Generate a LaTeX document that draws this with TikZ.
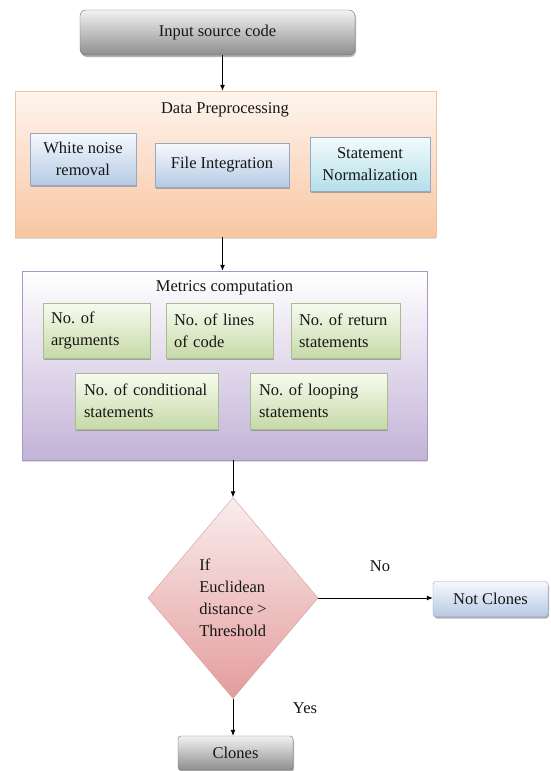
\documentclass[tikz,border=0pt]{standalone}
\usepackage{fontspec}
\setmainfont{Liberation Serif}
\frenchspacing
\usetikzlibrary{shapes.geometric,shadows,arrows.meta}
\definecolor{txt}{HTML}{161616}
\definecolor{grayT}{HTML}{F2F2F2}
\definecolor{grayB}{HTML}{8E8E8E}
\definecolor{grayL}{HTML}{6E6E6E}
\definecolor{orT}{HTML}{FEF5EE}
\definecolor{orB}{HTML}{F8C6A2}
\definecolor{orL}{HTML}{F2C2A0}
\definecolor{blT}{HTML}{F6F9FD}
\definecolor{blB}{HTML}{B6CAE4}
\definecolor{blL}{HTML}{95A9C6}
\definecolor{cyT}{HTML}{F2FBFD}
\definecolor{cyB}{HTML}{B4DFEA}
\definecolor{puT}{HTML}{FFFFFF}
\definecolor{puB}{HTML}{C3B3D8}
\definecolor{puL}{HTML}{A898C2}
\definecolor{grT}{HTML}{F7FBF0}
\definecolor{grB}{HTML}{C6DAA8}
\definecolor{grL}{HTML}{A9BC8C}
\definecolor{pkT}{HTML}{FAEDED}
\definecolor{pkB}{HTML}{E49C9C}
\definecolor{pkL}{HTML}{D89A9A}
\tikzset{
  base/.style={font=\fontsize{16.5}{22}\selectfont, text=txt, inner sep=0pt},
  shad/.style={drop shadow={shadow xshift=1pt, shadow yshift=-2pt, fill=black!55, opacity=.55}},
  graybox/.style={base, shad, draw=grayL, rounded corners=6pt, top color=grayT, bottom color=grayB, align=center},
  bluebox/.style={base, shad, draw=blL, top color=blT, bottom color=blB, align=center},
  cyanbox/.style={base, shad, draw=blL, top color=cyT, bottom color=cyB, align=center},
  greenbox/.style={base, shad, draw=grL, top color=grT, bottom color=grB, align=left},
  orcont/.style={base, draw=orL, top color=orT, bottom color=orB, drop shadow={shadow xshift=0pt, shadow yshift=-2pt, fill=black!35, opacity=.4}},
  pucont/.style={base, draw=puL, top color=puT, bottom color=puB, drop shadow={shadow xshift=0pt, shadow yshift=-2pt, fill=black!35, opacity=.4}},
  decision/.style={base, diamond, draw=pkL, top color=pkT, bottom color=pkB, align=left},
  lbl/.style={base},
  arr/.style={draw=black, line width=0.9pt, -{Latex[length=6pt,width=5pt]}}
}
\begin{document}
\begin{tikzpicture}[x=1pt,y=-1pt]
\useasboundingbox[fill=white] (0,0) rectangle (550,771);
% top
\node[graybox, minimum width=275pt, minimum height=45pt] (input) at (217.5,32.5) {Input source code};
% data preprocessing
\node[orcont, minimum width=421pt, minimum height=146pt] (dp) at (225.5,164) {};
\node[lbl] (dptitle) at (225,110) {Data Preprocessing};
\node[bluebox, minimum width=106pt, minimum height=52pt] (wn) at (83,159) {White noise\\removal};
\node[bluebox, minimum width=134pt, minimum height=44pt] (fi) at (222,165) {File Integration};
\node[cyanbox, minimum width=120pt, minimum height=54pt] (sn) at (370,164) {Statement\\Normalization};
% metrics
\node[pucont, minimum width=405pt, minimum height=189pt] (mc) at (224.5,365.5) {};
\node[lbl] (mctitle) at (224.5,288) {Metrics computation};
\node[greenbox, minimum width=107pt, minimum height=55pt, text width=91pt] (args) at (96.5,330.5) {No. of\\arguments};
\node[greenbox, minimum width=107pt, minimum height=55pt, text width=91pt] (lines) at (219.5,330.5) {No. of lines\\of code};
\node[greenbox, minimum width=109pt, minimum height=55pt, text width=93pt] (ret) at (345.5,330.5) {No. of return\\statements};
\node[greenbox, minimum width=143pt, minimum height=56pt, text width=125pt] (cond) at (146.5,401) {No. of conditional\\statements};
\node[greenbox, minimum width=137pt, minimum height=56pt, text width=119pt] (loop) at (318.5,401) {No. of looping\\statements};
% decision
\node[decision, minimum width=170pt, minimum height=201pt] (dia) at (233,598) {If\\Euclidean\\distance >\\Threshold};
\node[bluebox, rounded corners=3pt, minimum width=115pt, minimum height=35pt] (nc) at (490.5,599) {Not Clones};
\node[graybox, rounded corners=3pt, minimum width=115pt, minimum height=34pt] (clones) at (235.5,753) {Clones};
\node[lbl] (no) at (380,566) {No};
\node[lbl] (yes) at (305,708) {Yes};
% connectors
\coordinate (c1) at (222.5,0);
\coordinate (c2) at (233,0);
\draw[arr] (input.south -| c1) -- (dp.north -| c1);
\draw[arr] (dp.south -| c1) -- (mc.north -| c1);
\draw[arr] (mc.south -| c2) -- (dia.north);
\draw[arr] (dia.east) -- (dia.east -| nc.west);
\draw[arr] (dia.south) -- (clones.north -| dia.south);
\end{tikzpicture}
\end{document}
